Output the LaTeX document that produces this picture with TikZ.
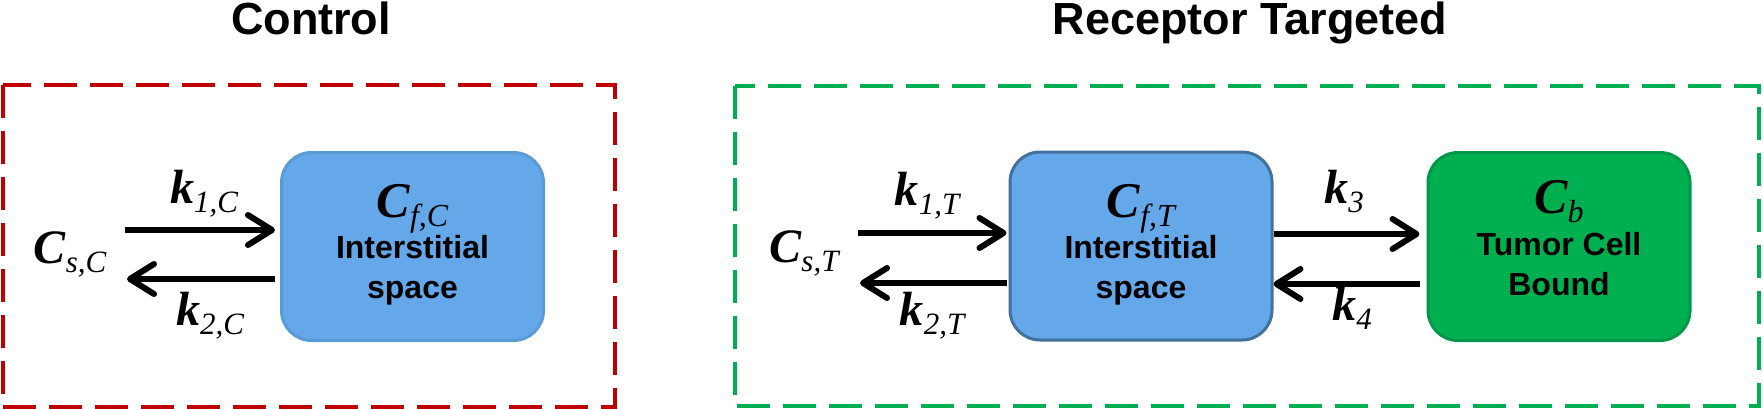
\documentclass[tikz,border=0pt]{standalone}
\usepackage{fontspec}
\setmainfont{Liberation Serif}
\newfontfamily\arialfont{Liberation Sans}
\usetikzlibrary{arrows.meta}

\definecolor{ctrlred}{HTML}{C00000}
\definecolor{trgtgreen}{HTML}{00B050}
\definecolor{boxblue}{HTML}{64A8EA}
\definecolor{boxblueline}{HTML}{5B9BD5}
\definecolor{boxbluedark}{HTML}{41719C}
\definecolor{boxgreenline}{HTML}{00974A}

% concentration / rate symbol: bold italic letter, plain italic subscript
\newcommand{\conc}[4][48]{{\fontsize{#1}{#1}\selectfont\bfseries\itshape #3}{\fontsize{#2}{#2}\selectfont\itshape\raisebox{-9pt}{#4}}}

\tikzset{
  panel/.style={line width=4pt, dash pattern=on 33pt off 13pt},
  compart/.style={rounded corners=30pt, minimum width=262pt, minimum height=188pt, line width=3pt},
  flow/.style={line width=6pt, -{Straight Barb[round,length=24pt,width=30pt]}},
  lbl/.style={anchor=base, inner sep=0pt},
  paneltitle/.style={anchor=base, inner sep=0pt, font=\arialfont\bfseries\fontsize{45}{45}\selectfont},
  boxtext/.style={anchor=base, inner sep=0pt, font=\arialfont\bfseries\fontsize{32}{32}\selectfont}
}

\begin{document}
\begin{tikzpicture}[x=1pt,y=-1pt]
  \useasboundingbox (0,0) rectangle (1763,409);
  % the two panels
  \draw [panel,ctrlred] (3,85) rectangle (615,407);
  \draw [panel,trgtgreen] (735,86) rectangle (1759,406);
  \node [paneltitle] (ttlc) at (311,35) {Control};
  \node [paneltitle] (ttlt) at (1250,35) {Receptor Targeted};

  % control
  \node [compart,fill=boxblue,draw=boxblueline] (cfc) at (412.5,246.5) {};
  \node [lbl] (cfclbl) at (412.5,217) {\conc[50]{32}{C}{f,C}};
  \node [boxtext] (isc) at (412.5,258) {Interstitial};
  \node [boxtext] (spc) at (412.5,298) {space};
  \node [lbl] (csc) at (70,263) {\conc{31}{C}{s,C}};
  \coordinate (c1) at (125,230);
  \coordinate (c2) at (127,279);
  \draw [flow,shorten >=5pt] (c1) -- (c1 -| cfc.west);
  \draw [flow,shorten <=5pt] (c2 -| cfc.west) -- (c2);
  \node [lbl] (k1c) at (204,203) {\conc{31}{k}{1,C}};
  \node [lbl] (k2c) at (210,325) {\conc{31}{k}{2,C}};

  % receptor targeted
  \node [compart,fill=boxblue,draw=boxbluedark] (cft) at (1141,246) {};
  \node [lbl] (cftlbl) at (1141,217) {\conc[50]{32}{C}{f,T}};
  \node [boxtext] (ist) at (1141,258) {Interstitial};
  \node [boxtext] (spt) at (1141,298) {space};
  \node [compart,fill=trgtgreen,draw=boxgreenline] (cb) at (1559,246.5) {};
  \node [lbl] (cblbl) at (1559,213) {\conc[50]{32}{C}{b}};
  \node [boxtext] (tcb) at (1559,255) {Tumor Cell};
  \node [boxtext] (bnd) at (1559,295) {Bound};
  \node [lbl] (cst) at (804,262) {\conc{31}{C}{s,T}};
  \coordinate (t1) at (858,233);
  \coordinate (t2) at (860,283);
  \draw [flow,shorten >=2pt] (t1) -- (t1 -| cft.west);
  \draw [flow,shorten <=2pt] (t2 -| cft.west) -- (t2);
  \node [lbl] (k1t) at (927,205) {\conc{31}{k}{1,T}};
  \node [lbl] (k2t) at (932,325) {\conc{31}{k}{2,T}};
  \draw [flow,shorten >=7pt] (cft.east |- 0,234) -- (cb.west |- 0,234);
  \draw [flow,shorten <=7pt] (cb.west |- 0,284) -- (cft.east |- 0,284);
  \node [lbl] (k3) at (1344,203) {\conc{31}{k}{3}};
  \node [lbl] (k4) at (1352,320) {\conc{31}{k}{4}};
\end{tikzpicture}
\end{document}
